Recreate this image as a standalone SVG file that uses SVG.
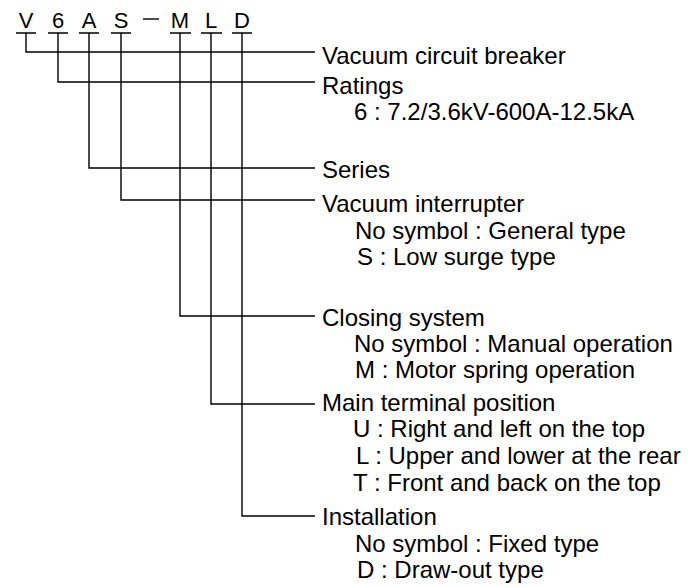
<svg xmlns="http://www.w3.org/2000/svg" width="688" height="587" viewBox="0 0 688 587">
<style>
text{font-family:"Liberation Sans",Arial,Helvetica,sans-serif;fill:#000}
.code{font-size:22px;text-anchor:middle}
.t{font-size:24px}
.ln{stroke:#000;stroke-width:1.4;fill:none}
</style>
<rect width="688" height="587" fill="#fff"/>
<g id="code">
<text class="code" x="26" y="28">V</text>
<text class="code" x="58" y="28">6</text>
<text class="code" x="89" y="28">A</text>
<text class="code" x="121" y="28">S</text>
<text class="code" x="180" y="28">M</text>
<text class="code" x="211" y="28">L</text>
<text class="code" x="242" y="28">D</text>
<path class="ln" d="M143 19H159"/>
<path class="ln" d="M16 33H36M48 33H68M79 33H99M111 33H131M170 33H191M201 33H222M232 33H252"/>
</g>
<g id="connectors">
<path class="ln" d="M26 33V52H315"/>
<path class="ln" d="M58 33V82H315"/>
<path class="ln" d="M89 33V168H315"/>
<path class="ln" d="M121 33V200H315"/>
<path class="ln" d="M180 33V316H315"/>
<path class="ln" d="M211 33V404H315"/>
<path class="ln" d="M242 33V516H315"/>
</g>
<g id="n-vcb"><text class="t" x="322" y="64">Vacuum circuit breaker</text></g>
<g id="n-ratings"><text class="t" x="322" y="94">Ratings</text>
<text class="t" x="354" y="120">6 : 7.2/3.6kV-600A-12.5kA</text></g>
<g id="n-series"><text class="t" x="322" y="178">Series</text></g>
<g id="n-vi"><text class="t" x="322" y="212">Vacuum interrupter</text>
<text class="t" x="355" y="239">No symbol : General type</text>
<text class="t" x="357" y="265">S : Low surge type</text></g>
<g id="n-closing"><text class="t" x="322" y="326">Closing system</text>
<text class="t" x="354" y="352">No symbol : Manual operation</text>
<text class="t" x="355" y="378">M : Motor spring operation</text></g>
<g id="n-main"><text class="t" x="322" y="411">Main terminal position</text>
<text class="t" x="353" y="437">U : Right and left on the top</text>
<text class="t" x="356" y="464">L : Upper and lower at the rear</text>
<text class="t" x="353" y="491">T : Front and back on the top</text></g>
<g id="n-install"><text class="t" x="322" y="525">Installation</text>
<text class="t" x="355" y="552">No symbol : Fixed type</text>
<text class="t" x="357" y="578">D : Draw-out type</text></g>
</svg>
